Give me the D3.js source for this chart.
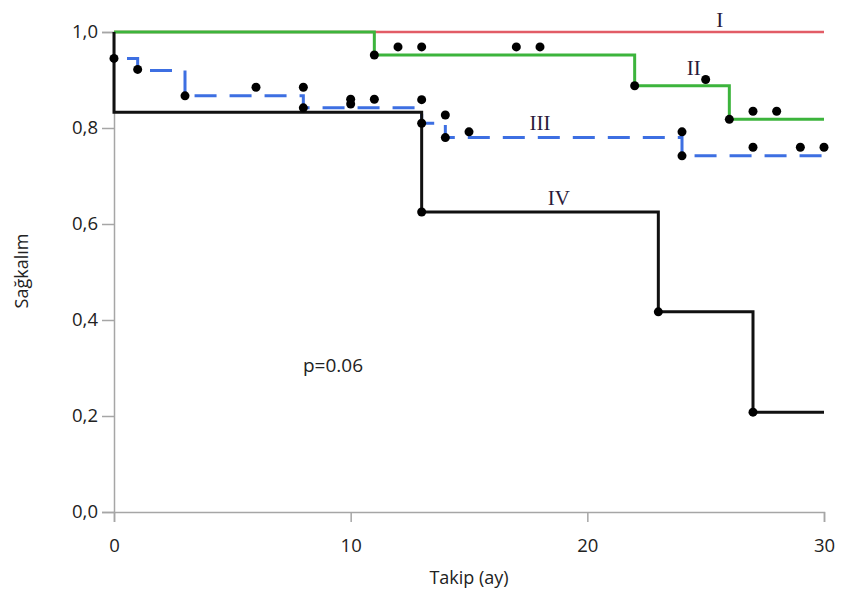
<!DOCTYPE html>
<html><head><meta charset="utf-8">
<script src="https://cdn.jsdelivr.net/npm/d3@7"></script>
<style>body{margin:0;background:#fff}svg{display:block}</style>
</head><body>
<svg id="chart" width="842" height="599"></svg>
<script>
// ---- data ----
const groupNames = ["I", "II", "III", "IV"];
const timesI = [0, 30];
const survI = [1.0, 1.0];
const timesII = [0, 11, 22, 26, 30];
const survII = [1.0, 0.952, 0.888, 0.818, 0.818];
const timesIII = [0, 1, 3, 8, 13, 14, 24, 30];
const survIII = [0.945, 0.92, 0.867, 0.842, 0.81, 0.78, 0.742, 0.742];
const timesIV = [0, 0, 13, 23, 27, 30];
const survIV = [1.0, 0.833, 0.625, 0.417, 0.208, 0.208];
const markTimes = [0, 1, 3, 6, 8, 8, 10, 10, 11, 11, 12, 13, 13, 13, 13, 14, 14, 15, 17, 18, 22, 23, 24, 24, 25, 26, 27, 28, 27, 29, 30, 27];
const markSurv  = [0.945, 0.922, 0.867, 0.885, 0.885, 0.842, 0.86, 0.85, 0.86, 0.952, 0.969, 0.969, 0.859, 0.81, 0.625, 0.827, 0.78, 0.792, 0.969, 0.969, 0.888, 0.417, 0.792, 0.742, 0.901, 0.818, 0.835, 0.835, 0.76, 0.76, 0.76, 0.208];
const xTicks = [0, 10, 20, 30];
const xMinorTicks = [5, 15, 25];
const yTicks = [0, 0.2, 0.4, 0.6, 0.8, 1.0];
const yMinorTicks = [0.1, 0.3, 0.5, 0.7, 0.9];
const labelPos = [[25.6, 1.01], [24.5, 0.91], [18, 0.795], [18.8, 0.64]];
const pText = "p=0.06";
const xTitle = "Takip (ay)";
const yTitle = "Sağkalım";

// ---- layout ----
const svg = d3.select("#chart");
const m = {l: 114, t: 32, r: 18, b: 87};
const W = 842, H = 599;
const x = d3.scaleLinear().domain([0, 30]).range([m.l, W - m.r]);
const y = d3.scaleLinear().domain([0, 1]).range([H - m.b, m.t]);
const font = "'Open Sans', 'Noto Sans', sans-serif";
const axisCol = "#a6a6a6";
const txtCol = "#222";

// axes
const gx = svg.append("g").attr("transform", `translate(0,${y(0)})`);
gx.call(d3.axisBottom(x).tickValues(xMinorTicks).tickSize(5).tickFormat(""));
gx.call(d3.axisBottom(x).tickValues(xTicks).tickSize(10).tickPadding(17).tickFormat(d3.format("d")));
gx.selectAll("path.domain").attr("stroke", axisCol).attr("stroke-width", 1.5);
gx.selectAll("line").attr("stroke", axisCol).attr("stroke-width", 1.5);
gx.selectAll("text").attr("font-family", font).attr("font-size", 18.5).attr("fill", txtCol);

const gy = svg.append("g").attr("transform", `translate(${x(0)},0)`);
gy.call(d3.axisLeft(y).tickValues(yMinorTicks).tickSize(5).tickFormat(""));
gy.call(d3.axisLeft(y).tickValues(yTicks).tickSize(12).tickPadding(4).tickFormat(d => d3.format(".1f")(d).replace(".", ",")));
gy.selectAll("path.domain").attr("stroke", axisCol).attr("stroke-width", 1.5);
gy.selectAll("line").attr("stroke", axisCol).attr("stroke-width", 1.5);
gy.selectAll("text").attr("font-family", font).attr("font-size", 18.5).attr("fill", txtCol);

// curves
const line = d3.line().x(d => x(d[0])).y(d => y(d[1])).curve(d3.curveStepAfter);
const series = [
  {t: timesI, s: survI, c: "#e25c66", w: 2.5, dash: null},
  {t: timesII, s: survII, c: "#3cb43c", w: 3, dash: null},
  {t: timesIII, s: survIII, c: "#3d6fe2", w: 3, dash: "22,13"},
  {t: timesIV, s: survIV, c: "#111", w: 3, dash: null}
];
series.forEach(se => {
  const pts = se.t.map((t, i) => [t, se.s[i]]);
  svg.append("path").attr("d", line(pts)).attr("fill", "none")
    .attr("stroke", se.c).attr("stroke-width", se.w)
    .attr("stroke-dasharray", se.dash).attr("stroke-dashoffset", se.dash ? 22 : null);
});

// marks
svg.append("g").selectAll("circle").data(markTimes.map((t, i) => [t, markSurv[i]]))
  .join("circle").attr("cx", d => x(d[0])).attr("cy", d => y(d[1])).attr("r", 4.5).attr("fill", "#000");

// group labels
svg.append("g").selectAll("text").data(groupNames).join("text")
  .attr("x", (d, i) => x(labelPos[i][0])).attr("y", (d, i) => y(labelPos[i][1]))
  .attr("text-anchor", "middle").attr("font-family", "'Liberation Serif', serif")
  .attr("font-size", 21).attr("fill", "#2a1a3a").text(d => d);

// p value
svg.append("text").attr("x", 333).attr("y", 372).attr("text-anchor", "middle")
  .attr("font-family", font).attr("font-size", 19).attr("fill", txtCol).text(pText);

// titles
svg.append("text").attr("x", 469).attr("y", 584).attr("text-anchor", "middle")
  .attr("font-family", font).attr("font-size", 18).attr("fill", txtCol).text(xTitle);
svg.append("text").attr("transform", "translate(28,271) rotate(-90)").attr("text-anchor", "middle")
  .attr("font-family", font).attr("font-size", 18).attr("fill", txtCol).text(yTitle);
</script>
</body></html>
